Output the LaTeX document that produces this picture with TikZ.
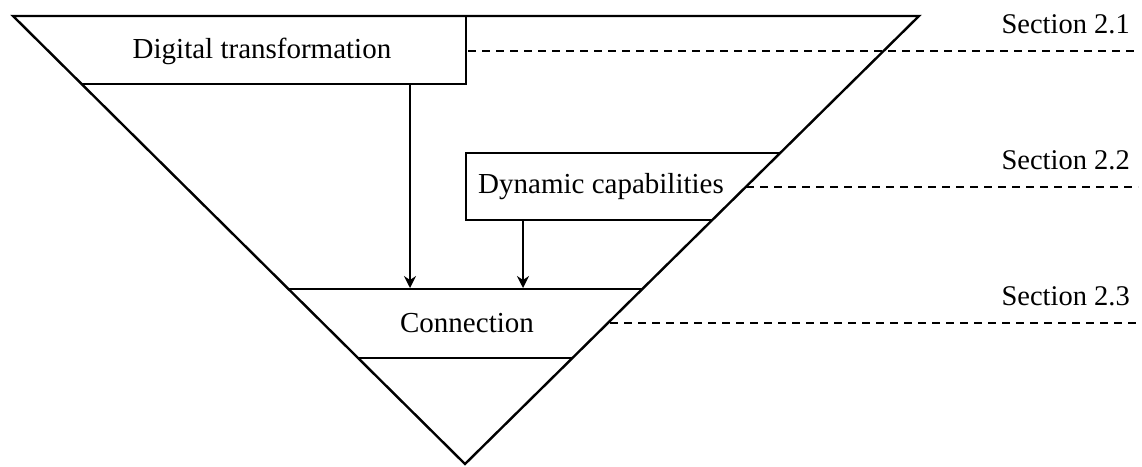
\documentclass[tikz,border=0pt]{standalone}
\usepackage{fontspec}
\setmainfont{Liberation Serif}
\usetikzlibrary{arrows.meta}
\begin{document}
\begin{tikzpicture}[x=1pt,y=-1pt,
  edge/.style={line width=2.4pt, line join=miter},
  guide/.style={line width=2pt, dash pattern=on 8pt off 6pt},
  flow/.style={line width=2.2pt, -{Stealth[length=12pt,width=12pt,inset=4pt]}},
  lbl/.style={font=\fontsize{29}{33}\selectfont, inner sep=0pt},
  sec/.style={font=\fontsize{28.5}{33}\selectfont, inner sep=0pt, anchor=base east}]
\useasboundingbox (0,0) rectangle (1142,466);
% triangle
\coordinate (TL) at (13,16);
\coordinate (TR) at (919,16);
\coordinate (AP) at (465,464);
\draw[edge] (TL) -- (TR) -- (AP) -- cycle;
% digital transformation box
\coordinate (d1) at (466,16);
\coordinate (d2) at (466,84);
\coordinate (d3) at (81.6,84);
\draw[edge] (d1) -- (d2) -- (d3);
\node[lbl] (dt) at (262,51) {Digital transformation};
% dynamic capabilities box
\coordinate (c1) at (780.2,153);
\coordinate (c2) at (466,153);
\coordinate (c3) at (466,220);
\coordinate (c4) at (712.3,220);
\draw[edge] (c1) -- (c2) -- (c3) -- (c4);
\node[lbl] (dc) at (601,187) {Dynamic capabilities};
% connection band
\coordinate (k1) at (288.4,289);
\coordinate (k2) at (642.3,289);
\coordinate (k3) at (358,358);
\coordinate (k4) at (572.4,358);
\draw[edge] (k1) -- (k2);
\draw[edge] (k3) -- (k4);
\node[lbl] (cn) at (467,323) {Connection};
% arrows
\coordinate (a1s) at (410,84);
\coordinate (a1e) at (410,288);
\coordinate (a2s) at (523,220);
\coordinate (a2e) at (523,288);
\draw[flow] (a1s) -- (a1e);
\draw[flow] (a2s) -- (a2e);
% section guides
\coordinate (g1s) at (468,51);
\coordinate (g1e) at (1138,51);
\coordinate (g2s) at (746,187);
\coordinate (g2e) at (1138,187);
\coordinate (g3s) at (610,323);
\coordinate (g3e) at (1138,323);
\draw[guide] (g1s) -- (g1e);
\draw[guide] (g2s) -- (g2e);
\draw[guide] (g3s) -- (g3e);
\node[sec] (s1) at (1130,33) {Section 2.1};
\node[sec] (s2) at (1130,169) {Section 2.2};
\node[sec] (s3) at (1130,305) {Section 2.3};
\end{tikzpicture}
\end{document}
